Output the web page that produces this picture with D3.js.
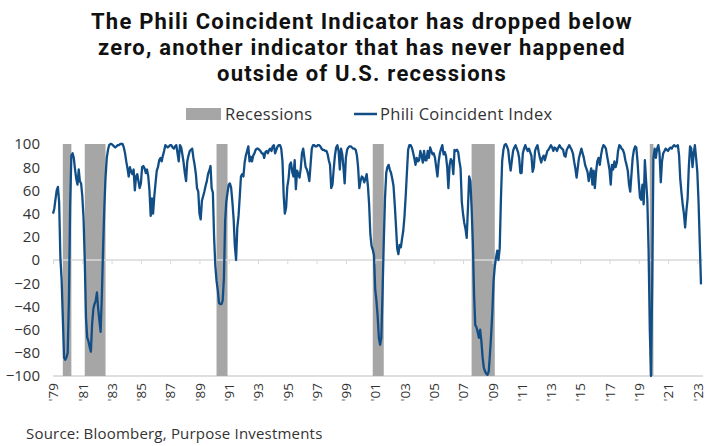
<!DOCTYPE html>
<html>
<head>
<meta charset="utf-8">
<script src="https://cdn.jsdelivr.net/npm/d3@7"></script>
<style>
  body { margin: 0; background: #fff; }
  text { font-family: "Open Sans", sans-serif; }
</style>
</head>
<body>
<div id="chart"></div>
<script>
// monthly values, first month May 1979
const START_MONTH = "1979-05"
const values = [
  40, 44, 52, 60, 63, 50, 2, -16,                        // 1979 (May-Dec)
  -50, -84, -86, -84, -80, -35, 45, 90, 92, 88, 78, 70,  // 1980
  65, 78, 68, 66, 55, 36, 0, -50, -67, -70, -75, -79,    // 1981
  -55, -42, -38, -35, -28, -42, -52, -62, -30, 10, 45, 71, // 1982
  88, 95, 99, 100, 100, 99, 98, 97, 98, 99, 99, 100,     // 1983
  100, 100, 97, 92, 85, 79, 72, 80, 76, 74, 78, 60,      // 1984
  72, 74, 68, 62, 66, 80, 81, 79, 75, 78, 72, 60,        // 1985
  38, 53, 40, 55, 66, 77, 80, 86, 88, 85, 90, 94,        // 1986
  99, 98, 97, 98, 99, 99, 97, 96, 98, 99, 92, 85,        // 1987
  99, 97, 91, 84, 75, 68, 85, 90, 94, 95, 96, 88,        // 1988
  82, 74, 62, 59, 40, 35, 51, 55, 59, 64, 68, 74,        // 1989
  77, 81, 62, 58, 20, -5, -18, -26, -37, -38, -38, -35,  // 1990
  -16, 34, 50, 58, 65, 66, 62, 50, 35, 12, 0, 28,        // 1991
  38, 55, 72, 74, 72, 84, 90, 94, 98, 85, 89, 85,        // 1992
  90, 92, 95, 96, 96, 95, 94, 92, 92, 88, 93, 94,        // 1993
  92, 95, 96, 94, 98, 99, 92, 95, 98, 99, 99, 96,        // 1994
  85, 55, 40, 45, 63, 70, 82, 84, 76, 72, 86, 61,        // 1995
  77, 74, 71, 79, 92, 96, 88, 80, 78, 74, 68, 82,        // 1996
  96, 99, 99, 98, 98, 99, 99, 98, 96, 95, 95, 94,        // 1997
  94, 91, 86, 82, 62, 65, 78, 90, 97, 99, 94, 78,        // 1998
  96, 91, 80, 66, 88, 95, 97, 98, 98, 97, 96, 96,        // 1999
  95, 90, 80, 62, 68, 72, 71, 67, 70, 74, 64, 48,        // 2000
  22, 12, 9, 4, -25, -35, -48, -67, -73, -67, -28, 15,   // 2001
  53, 75, 80, 82, 78, 75, 70, 64, 48, 30, 10, 5,         // 2002
  13, 11, 18, 25, 37, 55, 75, 95, 99, 99, 97, 93,        // 2003
  88, 82, 88, 85, 86, 94, 90, 84, 94, 86, 86, 94,        // 2004
  88, 97, 94, 91, 92, 88, 80, 72, 85, 92, 96, 99,        // 2005
  91, 93, 90, 80, 62, 82, 87, 85, 74, 95, 94, 95,        // 2006
  93, 85, 79, 50, 40, 32, 27, 19, 45, 72, 68, 45,        // 2007
  15, -30, -56, -58, -62, -67, -60, -70, -84, -93, -96, -98, // 2008
  -99, -96, -82, -65, -45, -18, -6, 2, 8, 0, 10, 52,     // 2009
  85, 95, 99, 100, 98, 95, 85, 77, 86, 94, 97, 99,       // 2010
  96, 93, 88, 75, 75, 92, 96, 99, 96, 94, 96, 93,        // 2011
  90, 76, 80, 94, 97, 99, 93, 88, 84, 88, 90, 86,        // 2012
  90, 94, 95, 97, 99, 97, 94, 97, 96, 94, 97, 99,        // 2013
  97, 96, 95, 90, 89, 95, 97, 99, 97, 95, 92, 85,        // 2014
  79, 71, 79, 88, 92, 96, 92, 88, 82, 79, 76, 68,        // 2015
  74, 79, 65, 77, 62, 76, 85, 88, 82, 90, 96, 99,        // 2016
  98, 96, 90, 84, 78, 65, 82, 78, 85, 80, 84, 94,        // 2017
  99, 98, 96, 95, 92, 86, 82, 77, 65, 59, 74, 88,        // 2018
  95, 98, 97, 85, 68, 54, 52, 65, 48, 86, 68, 52,        // 2019
  10, -60, -100, -20, 88, 96, 88, 96, 99, 92, 67, 85,    // 2020
  92, 94, 96, 95, 94, 96, 97, 96, 98, 99, 98, 98,        // 2021
  99, 90, 70, 58, 48, 40, 28, 42, 53, 80, 98, 96,        // 2022
  80, 92, 99, 88, 76, 50, 15, -21                        // 2023 (Jan-Aug)
]

const recessionStart = ["1980-01", "1981-07", "1990-07", "2001-03", "2007-12", "2020-02"]
const recessionEnd = ["1980-07", "1982-11", "1991-03", "2001-11", "2009-06", "2020-04"]
const yTicks = [100, 80, 60, 40, 20, 0, -20, -40, -60, -80, -100]
const titleLines = [
  "The Phili Coincident Indicator has dropped below",
  "zero, another indicator that has never happened",
  "outside of U.S. recessions"
]
const SOURCE = "Source: Bloomberg, Purpose Investments"

const LINE_COLOR = "#124e86"
const BAND_COLOR = "#a6a6a6"

let width = 723, height = 446
let parse = d3.timeParse("%Y-%m")
let start = parse(START_MONTH)
let data = values.map((v, i) => ({ date: d3.timeMonth.offset(start, i), value: v }))
let last = data[data.length - 1].date

let svg = d3.select("#chart").append("svg").attr("width", width).attr("height", height)

let x = d3.scaleTime().domain([start, last]).range([53, 701])
let y = d3.scaleLinear().domain([-100, 100]).range([376, 144])

// title
svg.append("g").selectAll("text").data(titleLines).join("text")
  .attr("x", 362).attr("y", (d, i) => 29 + i * 26)
  .attr("text-anchor", "middle")
  .style("font-family", "Roboto, sans-serif")
  .attr("font-size", "22px").attr("font-weight", 700).attr("fill", "#111")
  .attr("letter-spacing", "1.2px")
  .text(d => d)

// legend
let lg = svg.append("g")
lg.append("rect").attr("x", 186).attr("y", 108).attr("width", 35).attr("height", 12).attr("fill", BAND_COLOR)
lg.append("text").attr("x", 225).attr("y", 120).attr("font-size", "16.5px").attr("letter-spacing", "0.3px")
  .attr("fill", "#333").text("Recessions")
lg.append("line").attr("x1", 354).attr("x2", 377).attr("y1", 114).attr("y2", 114)
  .attr("stroke", LINE_COLOR).attr("stroke-width", 2.5)
lg.append("text").attr("x", 380).attr("y", 120).attr("font-size", "16.5px").attr("letter-spacing", "0.3px")
  .attr("fill", "#333").text("Phili Coincident Index")

// bottom line at -100
svg.append("line").attr("x1", 53).attr("x2", 703).attr("y1", y(-100)).attr("y2", y(-100))
  .attr("stroke", "#c0c0c0").attr("stroke-width", 1.2)

// recession bands
svg.append("g").selectAll("rect").data(recessionStart).join("rect")
  .attr("x", d => x(parse(d)))
  .attr("width", (d, i) => x(d3.timeMonth.offset(parse(recessionEnd[i]), 1)) - x(parse(d)))
  .attr("y", y(100)).attr("height", y(-100) - y(100))
  .attr("fill", BAND_COLOR)

// tick positions every 24 months from the first month
let tickDates = d3.range(0, values.length, 24).map(i => d3.timeMonth.offset(start, i))

// zero axis with small ticks
let zeroAxis = svg.append("g").attr("transform", `translate(0,${y(0)})`)
  .call(d3.axisBottom(x).tickValues(tickDates).tickSize(4).tickSizeOuter(0).tickFormat(""))
zeroAxis.select(".domain").attr("stroke", "#d9d9d9").attr("stroke-width", 1.5)
  .attr("d", `M53,0H703`)
zeroAxis.selectAll(".tick line").attr("stroke", "#d9d9d9")

// x labels at bottom, rotated
let xAxis = svg.append("g").attr("transform", `translate(0,${y(-100)})`)
  .call(d3.axisBottom(x).tickValues(tickDates).tickSize(0).tickFormat(d3.timeFormat("'%y")))
xAxis.select(".domain").remove()
xAxis.selectAll("text")
  .attr("transform", "rotate(-90)")
  .attr("x", -7).attr("y", 0).attr("dy", "0.35em")
  .attr("text-anchor", "end")
  .attr("font-size", "13.5px").attr("fill", "#333")
  .style("font-family", "'Open Sans', sans-serif")

// y axis
let yAxis = svg.append("g").attr("transform", "translate(44,0)")
  .call(d3.axisLeft(y).tickValues(yTicks).tickSize(0).tickPadding(4))
yAxis.select(".domain").remove()
yAxis.selectAll("text").attr("font-size", "15px").attr("fill", "#333")
  .style("font-family", "'Open Sans', sans-serif")

// the index line
let line = d3.line().x(d => x(d.date)).y(d => y(d.value))
svg.append("path").datum(data)
  .attr("d", line)
  .attr("fill", "none")
  .attr("stroke", LINE_COLOR)
  .attr("stroke-width", 2.3)
  .attr("stroke-linejoin", "round")

// source
svg.append("text").attr("x", 26).attr("y", 439).attr("font-size", "15px").attr("letter-spacing", "0.2px")
  .attr("fill", "#333").text(SOURCE)
</script>
</body>
</html>
